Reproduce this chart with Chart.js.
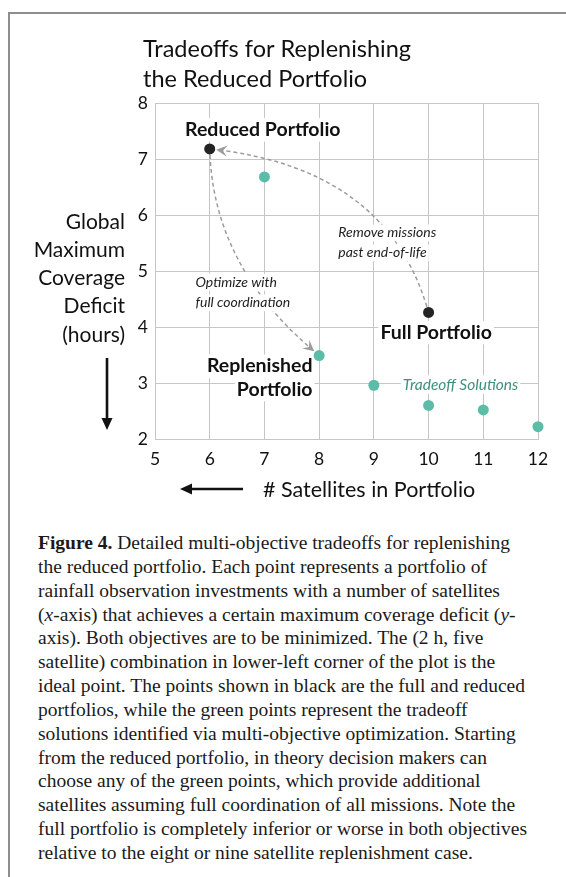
<!DOCTYPE html>
<html>
<head>
<meta charset="utf-8">
<title>Tradeoffs for Replenishing the Reduced Portfolio</title>
<script src="https://cdn.jsdelivr.net/npm/chart.js@4.4.1/dist/chart.umd.min.js"></script>
<style>
  html, body { margin: 0; padding: 0; background: #fff; }
  #page { position: relative; width: 566px; height: 877px; overflow: hidden; background: #fff; }
  #frame { position: absolute; left: 8px; top: 12px; width: 600px; height: 900px;
           border-left: 2px solid #8e8e8e; border-top: 2px solid #8e8e8e; }
  #plot { position: absolute; left: 0; top: 0; }
  #caption { position: absolute; left: 38px; top: 531px; font-family: "Liberation Serif", "DejaVu Serif", serif;
             font-size: 19.5px; line-height: 23.85px; color: #1a1a1a; white-space: nowrap; }
</style>
</head>
<body>
<div id="page">
  <div id="frame"></div>
  <canvas id="plot" width="566" height="510"></canvas>
  <div id="caption">
    <div><b>Figure 4.</b> Detailed multi-objective tradeoffs for replenishing</div>
    <div>the reduced portfolio. Each point represents a portfolio of</div>
    <div>rainfall observation investments with a number of satellites</div>
    <div>(<i>x</i>-axis) that achieves a certain maximum coverage deficit (<i>y</i>-</div>
    <div>axis). Both objectives are to be minimized. The (2 h, five</div>
    <div>satellite) combination in lower-left corner of the plot is the</div>
    <div>ideal point. The points shown in black are the full and reduced</div>
    <div>portfolios, while the green points represent the tradeoff</div>
    <div>solutions identified via multi-objective optimization. Starting</div>
    <div>from the reduced portfolio, in theory decision makers can</div>
    <div>choose any of the green points, which provide additional</div>
    <div>satellites assuming full coordination of all missions. Note the</div>
    <div>full portfolio is completely inferior or worse in both objectives</div>
    <div>relative to the eight or nine satellite replenishment case.</div>
  </div>
</div>
<script>
// Tradeoff solutions found by the multi-objective search
const tradeoffSatellites = [7, 8, 9, 10, 11, 12];
const tradeoffDeficit = [6.68, 3.49, 2.96, 2.6, 2.52, 2.22];

// Reduced (6 satellites) and full (10 satellites) portfolios
const portfolioSatellites = [6, 10];
const portfolioDeficit = [7.18, 4.26];

// Axis ticks
const xTickValues = [5, 6, 7, 8, 9, 10, 11, 12];
const yTickValues = [2, 3, 4, 5, 6, 7, 8];

const SANS = 'Lato, "Open Sans", sans-serif';
const TEAL = '#5bbda7';
const DARK = '#242424';
const GRID = '#c6c6c6';
const DASH = '#9c9c9c';

function toPoints(xs, ys) {
  return xs.map((x, i) => ({ x: x, y: ys[i] }));
}

function shiftToward(p, q, dist) {
  const dx = q.x - p.x, dy = q.y - p.y;
  const len = Math.hypot(dx, dy) || 1;
  return { x: p.x + dx / len * dist, y: p.y + dy / len * dist };
}

function arrowHead(ctx, x, y, ang, len, half, color) {
  ctx.save();
  ctx.translate(x, y);
  ctx.rotate(ang);
  ctx.beginPath();
  ctx.moveTo(0, 0);
  ctx.lineTo(-len, -half);
  ctx.lineTo(-len * 0.62, 0);
  ctx.lineTo(-len, half);
  ctx.closePath();
  ctx.fillStyle = color;
  ctx.fill();
  ctx.restore();
}

function solidArrow(ctx, x1, y1, x2, y2) {
  ctx.save();
  ctx.strokeStyle = '#111';
  ctx.fillStyle = '#111';
  ctx.lineWidth = 2.6;
  const ang = Math.atan2(y2 - y1, x2 - x1);
  const head = 12;
  ctx.beginPath();
  ctx.moveTo(x1, y1);
  ctx.lineTo(x2 - Math.cos(ang) * head * 0.8, y2 - Math.sin(ang) * head * 0.8);
  ctx.stroke();
  ctx.translate(x2, y2);
  ctx.rotate(ang);
  ctx.beginPath();
  ctx.moveTo(0, 0);
  ctx.lineTo(-head, -5.5);
  ctx.lineTo(-head, 5.5);
  ctx.closePath();
  ctx.fill();
  ctx.restore();
}

// Titles, dashed connector curves and text callouts
const annotations = {
  id: 'annotations',
  beforeDatasetsDraw(chart, args, opts) {
    const ctx = chart.ctx;
    const xs = chart.scales.x, ys = chart.scales.y;
    const px = v => xs.getPixelForValue(v);
    const py = v => ys.getPixelForValue(v);
    ctx.save();

    opts.curves.forEach(c => {
      const S = { x: px(c.from[0]), y: py(c.from[1]) };
      const C = { x: px(c.via[0]), y: py(c.via[1]) };
      const E = { x: px(c.to[0]), y: py(c.to[1]) };
      const s = shiftToward(S, C, c.startGap);
      const e = shiftToward(E, C, c.endGap);
      ctx.beginPath();
      ctx.setLineDash([4, 3]);
      ctx.lineWidth = 1.5;
      ctx.strokeStyle = DASH;
      ctx.moveTo(s.x, s.y);
      ctx.quadraticCurveTo(C.x, C.y, e.x, e.y);
      ctx.stroke();
      ctx.setLineDash([]);
      arrowHead(ctx, e.x, e.y, Math.atan2(e.y - C.y, e.x - C.x), 11, 5.5, DASH);
    });

    opts.labels.forEach(l => {
      ctx.font = l.font;
      ctx.textAlign = l.align;
      ctx.textBaseline = 'middle';
      l.lines.forEach((t, i) => {
        const w = ctx.measureText(t).width;
        const X = px(l.x), Y = py(l.y) + i * l.lineHeight;
        const left = l.align === 'left' ? X : (l.align === 'right' ? X - w : X - w / 2);
        ctx.fillStyle = '#fff';
        ctx.fillRect(left - 2, Y - l.size * 0.6, w + 4, l.size * 1.2);
        ctx.fillStyle = l.color;
        ctx.fillText(t, X, Y);
      });
    });
    ctx.restore();
  },
  afterDraw(chart) {
    const ctx = chart.ctx;
    const a = chart.chartArea;
    ctx.save();
    ctx.fillStyle = '#111';

    // Chart title
    ctx.font = '23.5px ' + SANS;
    ctx.textAlign = 'left';
    ctx.textBaseline = 'alphabetic';
    ctx.fillText('Tradeoffs for Replenishing', a.left - 12, a.top - 46);
    ctx.fillText('the Reduced Portfolio', a.left - 12, a.top - 16);

    // y-axis title, set horizontally and right aligned
    ctx.font = '21px ' + SANS;
    ctx.textAlign = 'right';
    ctx.textBaseline = 'middle';
    ['Global', 'Maximum', 'Coverage', 'Deficit', '(hours)'].forEach((t, i) => {
      ctx.fillText(t, a.left - 30, a.top + 119 + i * 28.2);
    });
    solidArrow(ctx, a.left - 48, a.top + 255, a.left - 48, a.top + 327);

    // x-axis title
    ctx.font = '21.5px ' + SANS;
    ctx.textAlign = 'left';
    ctx.fillText('# Satellites in Portfolio', a.left + 108, a.bottom + 51);
    solidArrow(ctx, a.left + 88, a.bottom + 50, a.left + 25, a.bottom + 50);
    ctx.restore();
  }
};

const boldFont = 'bold 19.5px ' + SANS;
const italicFont = 'italic 14px ' + SANS;

new Chart(document.getElementById('plot'), {
  type: 'scatter',
  data: {
    datasets: [
      {
        label: 'Tradeoff Solutions',
        data: toPoints(tradeoffSatellites, tradeoffDeficit),
        backgroundColor: TEAL,
        borderColor: TEAL,
        borderWidth: 0,
        pointRadius: 5.5,
        pointHoverRadius: 5.5,
        clip: false
      },
      {
        label: 'Portfolios',
        data: toPoints(portfolioSatellites, portfolioDeficit),
        backgroundColor: DARK,
        borderColor: DARK,
        borderWidth: 0,
        pointRadius: 5.5,
        pointHoverRadius: 5.5,
        clip: false
      }
    ]
  },
  options: {
    responsive: false,
    animation: false,
    events: [],
    layout: { padding: { left: 0, top: 103, right: 28, bottom: 0 } },
    plugins: {
      legend: { display: false },
      tooltip: { enabled: false },
      title: { display: false },
      annotations: {
        curves: [
          { from: [10, 4.26], via: [9.21, 6.81], to: [6, 7.18], startGap: 6, endGap: 6.5 },
          { from: [6, 7.18], via: [6.10, 5.06], to: [8, 3.49], startGap: 6, endGap: 6.5 }
        ],
        labels: [
          { lines: ['Reduced Portfolio'], x: 6.97, y: 7.52, align: 'center', font: boldFont, size: 19.5, lineHeight: 0, color: '#111' },
          { lines: ['Full Portfolio'], x: 10.14, y: 3.9, align: 'center', font: boldFont, size: 19.5, lineHeight: 0, color: '#111' },
          { lines: ['Replenished', 'Portfolio'], x: 7.88, y: 3.30, align: 'right', font: boldFont, size: 19.5, lineHeight: 23.3, color: '#111' },
          { lines: ['Tradeoff Solutions'], x: 9.53, y: 2.97, align: 'left', font: 'italic 15.5px ' + SANS, size: 15.5, lineHeight: 0, color: '#3f8f7d' },
          { lines: ['Remove missions', 'past end-of-life'], x: 8.35, y: 5.68, align: 'left', font: italicFont, size: 14, lineHeight: 20, color: '#222' },
          { lines: ['Optimize with', 'full coordination'], x: 5.74, y: 4.80, align: 'left', font: italicFont, size: 14, lineHeight: 20.6, color: '#222' }
        ]
      }
    },
    scales: {
      x: {
        type: 'linear',
        min: 5,
        max: 12,
        afterBuildTicks: s => { s.ticks = xTickValues.map(v => ({ value: v })); },
        afterFit: s => { s.height = 71; s.paddingLeft = 0; s.paddingRight = 0; },
        grid: { color: GRID, lineWidth: 1, drawTicks: false },
        border: { color: GRID, width: 1 },
        ticks: { padding: 10, autoSkip: false, maxRotation: 0, color: '#111', font: { family: SANS, size: 17.5 } }
      },
      y: {
        type: 'linear',
        min: 2,
        max: 8,
        afterBuildTicks: s => { s.ticks = yTickValues.map(v => ({ value: v })); },
        afterFit: s => { s.width = 155; s.paddingTop = 0; s.paddingBottom = 0; },
        grid: { color: GRID, lineWidth: 1, drawTicks: false },
        border: { color: GRID, width: 1 },
        ticks: { padding: 7, color: '#111', font: { family: SANS, size: 17.5 } }
      }
    }
  },
  plugins: [annotations]
});
</script>
</body>
</html>
